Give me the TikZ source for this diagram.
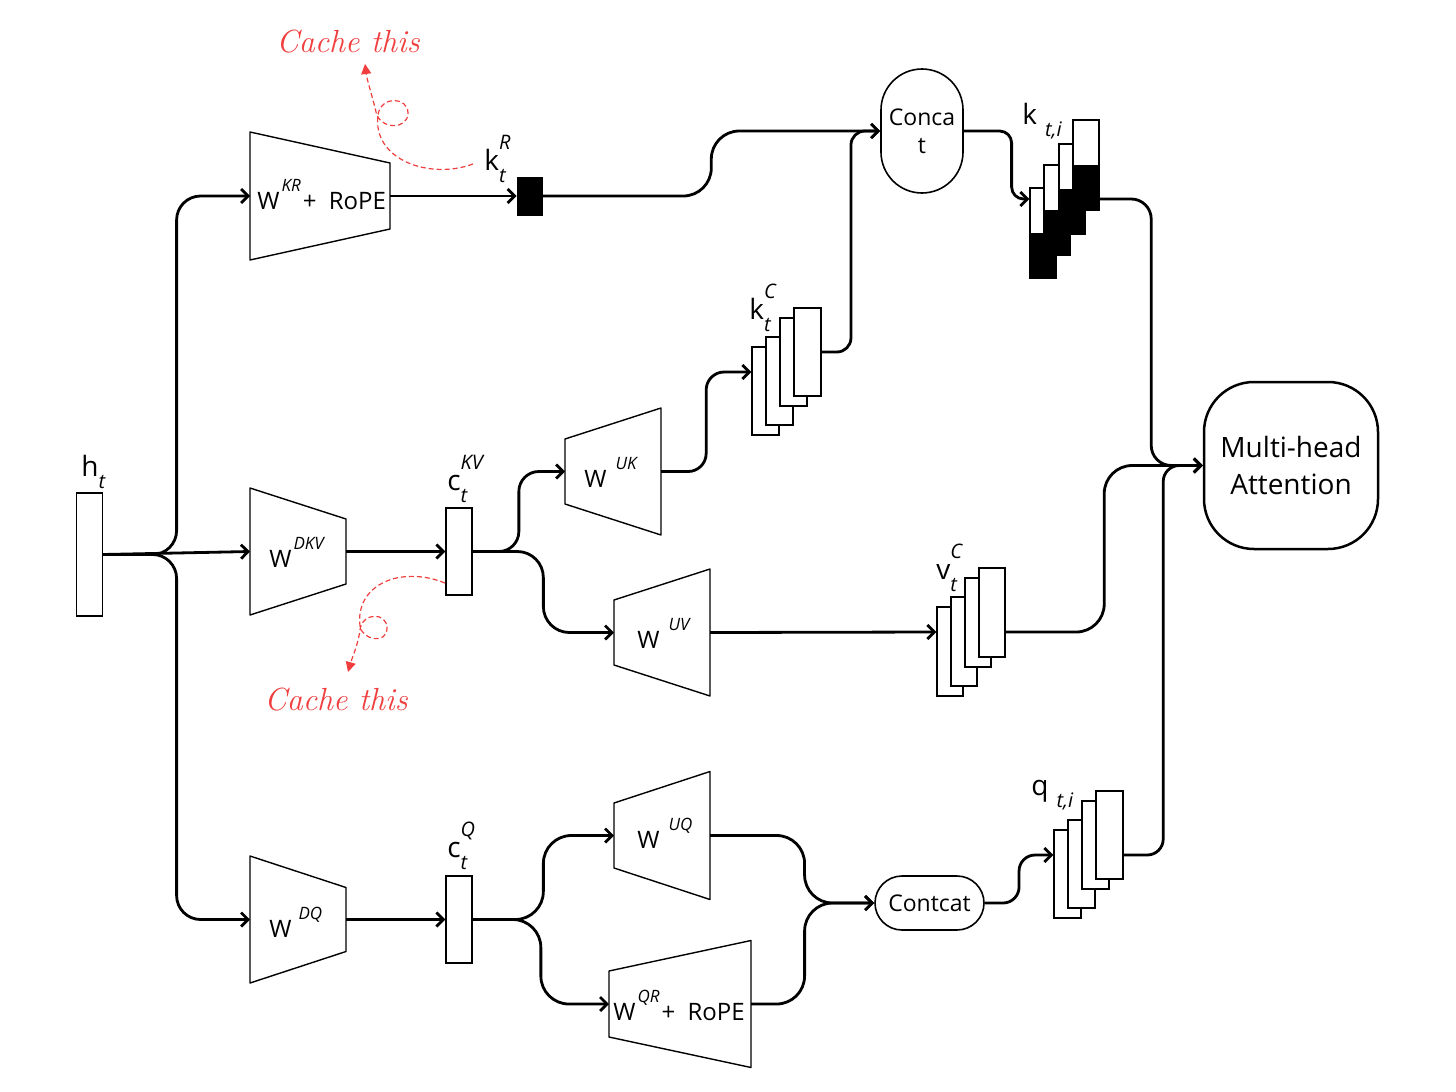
\documentclass[tikz,border=0pt]{standalone}
\usepackage{fontspec}
\setsansfont{Open Sans}
\usetikzlibrary{arrows.meta,calc}

\definecolor{cachered}{RGB}{240,62,62}
% raised and lowered script letters
\newcommand{\sps}[2][8.5]{\raisebox{0.72em}{\fontsize{#1}{#1}\selectfont\itshape #2}}
\newcommand{\sbs}[2][8.5]{\raisebox{-0.45em}{\fontsize{#1}{#1}\selectfont\itshape #2}}

\tikzset{
  conn/.style={line width=1.4pt,-{Straight Barb[length=3.5pt,width=7pt]},rounded corners=#1},
  conn/.default=12pt,
  elbow/.style={to path={let \p1=(\tikztostart), \p2=(\tikztotarget) in
    -- ({\x1+#1*(\x2-\x1)},\y1) -- ({\x1+#1*(\x2-\x1)},\y2) -- (\p2)}},
  elbow/.default=0.5,
  wbox/.style={draw,line width=0.7pt,line join=round},
  vec/.style={draw,fill=white,line width=0.7pt,inner sep=0pt,minimum width=13pt,minimum height=43.5pt},
  halfvec/.style={vec,minimum height=45pt,
    path picture={\fill[black] (path picture bounding box.west) rectangle (path picture bounding box.south east);}},
  lbl/.style={font=\sffamily\fontsize{12}{14}\selectfont,inner sep=0pt,anchor=base west},
  tag/.style={lbl,font=\sffamily\fontsize{14}{16}\selectfont},
  pill/.style={draw,line width=0.8pt,inner sep=0pt,font=\sffamily\fontsize{11.5}{14}\selectfont,align=center},
  cache/.style={text=cachered,font=\rmfamily\itshape\fontsize{16}{18}\selectfont,inner sep=0pt},
  cachearrow/.style={cachered,line width=0.6pt,dash pattern=on 2.5pt off 1.5pt,-{Triangle[length=5pt,width=5pt]}}
}

\begin{document}
\begin{tikzpicture}[x=0.5pt,y=-0.5pt]
\useasboundingbox (0,0) rectangle (1456,1092);

% input and latent vectors
\node[vec,minimum height=61.5pt] (h) at (89.5,554.5) {};
\node[vec] (ckv) at (459,551.5) {};
\node[vec] (cq) at (459,919.5) {};
\node[draw,fill=black,inner sep=0pt,minimum width=12.5pt,minimum height=19pt] (kr) at (529.5,196) {};

% projections
\foreach \n/\cx/\cy/\w/\l/\r in {wkr/320/196/70/64/33, wdkv/298/551.5/48/63.5/32.5,
    wdq/298/919.5/48/63.5/32, wuk/613/471.5/48/32.5/63.5, wuv/662/632.5/48/32.5/63.5,
    wuq/662/835.5/48/32.5/64, wqr/680/1004/71/33/63.5} {
  \draw[wbox] (\cx-\w,\cy-\l) -- (\cx+\w,\cy-\r) -- (\cx+\w,\cy+\r) -- (\cx-\w,\cy+\l) -- cycle;
  \coordinate (\n-in) at (\cx-\w,\cy);
  \coordinate (\n-out) at (\cx+\w,\cy);
}

\node[lbl] (wkrlbl) at (257,209) {W\hspace{1pt}\sps{KR}\hspace{1pt}+\hspace{3pt} RoPE};
\node[lbl] (wdkvlbl) at (269,567) {W\hspace{1pt}\sps{DKV}};
\node[lbl] (wdqlbl) at (269,937) {W\hspace{3.5pt}\sps{DQ}};
\node[lbl] (wuklbl) at (584,487) {W\hspace{4.5pt}\sps{UK}};
\node[lbl] (wuvlbl) at (637,648) {W\hspace{4.5pt}\sps{UV}};
\node[lbl] (wuqlbl) at (637,848) {W\hspace{4.5pt}\sps{UQ}};
\node[lbl] (wqrlbl) at (613,1020) {W\hspace{1pt}\sps{QR}\hspace{1pt}+\hspace{3pt} RoPE};

% stacked heads
\foreach \dx/\dy [count=\i] in {0/0,14/-10,28/-29,42/-39} {
  \node[vec,minimum width=13.5pt,minimum height=44pt] (kc\i) at (765.5+\dx,391+\dy) {};
}
\foreach \dx/\dy [count=\i] in {0/0,14/-10,28/-29,42/-39} {
  \node[vec,minimum height=44.5pt] (vc\i) at (950+\dx,651.5+\dy) {};
}
\foreach \dx/\dy [count=\i] in {0/0,14/-10,28/-29,42/-39} {
  \node[vec,minimum width=13.5pt,minimum height=44pt] (q\i) at (1067.5+\dx,874+\dy) {};
}
\foreach \dx/\dy [count=\i] in {0/0,14/-23,29/-44,43/-68} {
  \node[halfvec] (ki\i) at (1043+\dx,233+\dy) {};
}
\coordinate (kc-in) at ([yshift=9.5pt]kc1.west);
\coordinate (vc-in) at ([yshift=9.75pt]vc1.west);
\coordinate (vc-out) at ([yshift=-9.75pt]vc4.east);
\coordinate (q-in) at ([yshift=9.5pt]q1.west);
\coordinate (q-out) at ([yshift=-10pt]q4.east);
\coordinate (ki-in) at ([yshift=17pt]ki1.west);
\coordinate (ki-out) at ([yshift=-17pt]ki4.east);

% combining blocks
\node[pill,rounded corners=20.5pt,minimum width=41pt,minimum height=62pt] (cat) at (922,131) {Conca\\t};
\node[pill,rounded corners=13.5pt,minimum width=54.5pt,minimum height=27pt] (ccat) at (929.5,903) {Contcat};
\node[draw,line width=1.25pt,rounded corners=25pt,minimum width=87pt,minimum height=83.5pt,
      font=\sffamily\fontsize{14}{18.5}\selectfont,align=center] (mha) at (1291,465.5) {Multi-head\\Attention};

% labels
\node[tag] (hlbl) at (81,476) {h\sbs[10]{t}};
\node[tag] (krlbl) at (484,170) {k\rlap{\sps[10]{R}}\sbs[10]{t}};
\node[tag] (kclbl) at (749,319) {k\rlap{\sps[10]{C}}\sbs[10]{t}};
\node[tag] (ckvlbl) at (447,490) {c\rlap{\sps[10]{KV}}\sbs[10]{t}};
\node[tag] (cqlbl) at (447,857) {c\rlap{\sps[10]{Q}}\sbs[10]{t}};
\node[tag] (vclbl) at (936,579) {v\rlap{\sps[10]{C}}\sbs[10]{t}};
\node[tag] (kilbl) at (1022,124) {k\hspace{4pt}\sbs[10]{t,i}};
\node[tag] (qlbl) at (1031,795) {q\hspace{4pt}\sbs[10]{t,i}};

% connectors
\draw[conn,elbow] (h.east) to (wkr-in);
\draw[conn] (h.east) -- (wdkv-in);
\draw[conn,elbow] (h.east) to (wdq-in);
\draw[conn] (wkr-out) -- (kr.west);
\draw[conn=14pt,elbow] (kr.east) to (cat.west);
\draw[conn] (wdkv-out) -- (ckv.west);
\draw[conn=10pt,elbow] (ckv.east) to (wuk-in);
\draw[conn=13pt,elbow] (ckv.east) to (wuv-in);
\draw[conn=9pt,elbow] (wuk-out) to (kc-in);
\draw[conn=7pt,elbow] (kc4.east) to (cat.west);
\draw[conn=6pt,elbow=0.73] (cat.east) to (ki-in);
\draw[conn] (wuv-out) -- (vc-in);
\draw[conn] (wdq-out) -- (cq.west);
\draw[conn=14pt,elbow] (cq.east) to (wuq-in);
\draw[conn=14pt,elbow] (cq.east) to (wqr-in);
\draw[conn=14pt,elbow=0.576] (wuq-out) to (ccat.west);
\draw[conn=14pt,elbow=0.435] (wqr-out) to (ccat.west);
\draw[conn=8pt,elbow] (ccat.east) to (q-in);
\draw[conn=10pt,elbow] (ki-out) to (mha.west);
\draw[conn=14pt,elbow] (vc-out) to (mha.west);
\draw[conn=8pt,elbow] (q-out) to (mha.west);

% cache notes
\node[cache] (cache1) at (348,42) {Cache this};
\node[cache] (cache2) at (336,700) {Cache this};
\draw[cachearrow] (473,164) .. controls (430,180) and (372,160) .. (378,115)
  .. controls (381,95) and (408,97) .. (408,113) .. controls (408,130) and (380,130) .. (376,112)
  .. controls (372,95) and (367,80) .. (365,64);
\draw[cachearrow] (445,583) .. controls (400,565) and (355,585) .. (360,626)
  .. controls (362,640) and (387,645) .. (387,628) .. controls (387,612) and (362,612) .. (360,630)
  .. controls (358,645) and (352,658) .. (348,672);
\end{tikzpicture}
\end{document}
